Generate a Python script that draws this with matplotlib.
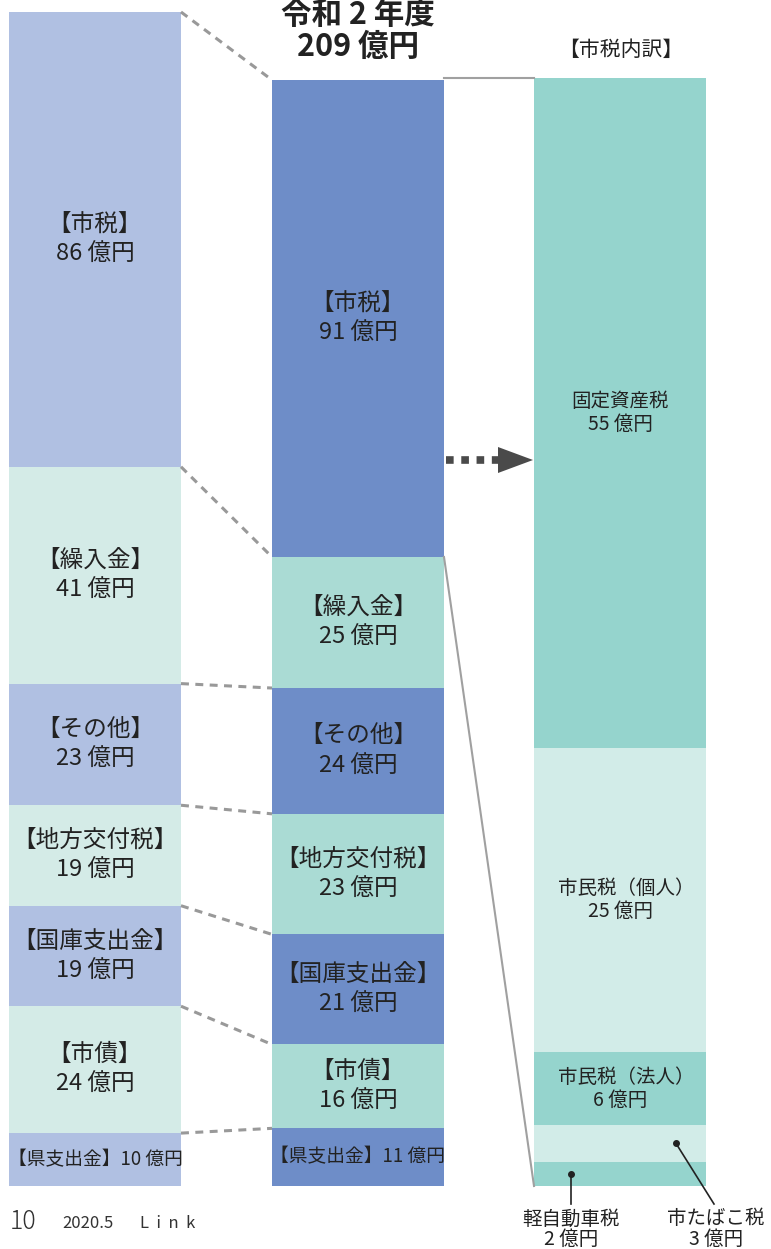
import numpy as np
import matplotlib
matplotlib.use('Agg')
import matplotlib.pyplot as plt

plt.rcParams['font.family'] = ['Noto Sans CJK JP', 'DejaVu Sans']

# data (億円)
cats = ['市税', '繰入金', 'その他', '地方交付税', '国庫支出金', '市債', '県支出金']
prev_vals = [86, 41, 23, 19, 19, 24, 10]
curr_vals = [91, 25, 24, 23, 21, 16, 11]
tax_cats = ['固定資産税', '市民税（個人）', '市民税（法人）', '市たばこ税', '軽自動車税']
tax_vals = [55, 25, 6, 3, 2]

W, H = 771, 1249
fig = plt.figure(figsize=(W / 100, H / 100), dpi=100)
ax = fig.add_axes([0, 0, 1, 1])
ax.set_xlim(0, W)
ax.set_ylim(H, 0)
ax.axis('off')

base = 1186          # common baseline in px
bw = 172
x_prev, x_curr, x_tax = 9, 272, 534
prev_scale = (base - 12) / sum(prev_vals)     # px per 億円
curr_scale = (base - 80) / sum(curr_vals)
tax_scale = (base - 78) / sum(tax_vals)

c_prev = ['#b0c0e2', '#d4ebe7']
c_curr = ['#6e8dc8', '#aadbd4']
c_tax = ['#95d4cd', '#d2ece8']
tc = '#222222'


def stack(x, vals, sc, colors):
    tops = base - sc * np.cumsum(vals[::-1])[::-1]
    hs = np.array(vals) * sc
    for i, (t, h) in enumerate(zip(tops, hs)):
        ax.bar(x, h, bottom=t, width=bw, align='edge', color=colors[i % 2], lw=0)
    return tops, hs


pt, ph = stack(x_prev, prev_vals, prev_scale, c_prev)
ct, chh = stack(x_curr, curr_vals, curr_scale, c_curr)
tt, th = stack(x_tax, tax_vals, tax_scale, c_tax)

fs = 17
for i, c in enumerate(cats):
    for x0, tops, hs, vals in [(x_prev, pt, ph, prev_vals), (x_curr, ct, chh, curr_vals)]:
        yc = tops[i] + hs[i] / 2
        if c == '県支出金':
            ax.text(x0 + bw / 2, yc, f'【{c}】{vals[i]} 億円', ha='center', va='center',
                    fontsize=13.5, color=tc)
        else:
            ax.text(x0 + bw / 2, yc - 15, f'【{c}】', ha='center', va='center',
                    fontsize=fs, color=tc)
            ax.text(x0 + bw / 2, yc + 15, f'{vals[i]} 億円', ha='center', va='center',
                    fontsize=fs, color=tc)

# dashed connectors
pb = np.append(pt, base)
cb = np.append(ct, base)
for a, b in zip(pb[:-1], cb[:-1]):
    ax.plot([x_prev + bw, x_curr], [a, b], ls=(0, (2.6, 2.1)), color='#999999', lw=2.2)

# right bar labels
for i in range(3):
    yc = tt[i] + th[i] / 2
    dx = 6 if '（' in tax_cats[i] else 0
    ax.text(x_tax + bw / 2 + dx, yc - 11, tax_cats[i], ha='center', va='center',
            fontsize=14, color=tc)
    ax.text(x_tax + bw / 2, yc + 12, f'{tax_vals[i]} 億円', ha='center', va='center',
            fontsize=14, color=tc)

# small ones with leader lines
ycar = tt[4] + th[4] / 2
ytob = tt[3] + th[3] / 2
ax.plot([571, 571], [ycar, 1204], color=tc, lw=1.2)
ax.plot(571, ycar, 'o', color=tc, ms=4)
ax.text(571, 1229, f'{tax_cats[4]}\n{tax_vals[4]} 億円', ha='center', va='center',
        fontsize=14, color=tc, linespacing=0.95)
ax.plot([676, 714], [ytob, 1204], color=tc, lw=1.2)
ax.plot(676, ytob, 'o', color=tc, ms=4)
ax.text(716, 1229, f'{tax_cats[3]}\n{tax_vals[3]} 億円', ha='center', va='center',
        fontsize=14, color=tc, linespacing=0.95)

# solid connectors middle -> right
ax.plot([x_curr + bw, x_tax], [tt[0], tt[0]], color='#a0a0a0', lw=1.5)
ax.plot([x_curr + bw, x_tax], [ct[1], base], color='#a0a0a0', lw=1.5)

# dotted arrow
ax.plot([446, 500], [460, 460], ls=(0, (1, 1)), color='#4a4a4a', lw=5.5, solid_capstyle='butt')
ax.fill([498, 533, 498], [447, 460, 473], color='#4a4a4a', lw=0)

# titles
ax.text(x_curr + bw / 2, 31, '令和 2 年度\n209 億円', ha='center', va='center',
        fontsize=22, fontweight='bold', color=tc, linespacing=1.0)
ax.text(x_tax + bw / 2 + 1, 50, '【市税内訳】', ha='center', va='center',
        fontsize=15, color=tc)

# footer
ax.text(10, 1222, '10', ha='left', va='center', fontsize=18, color='#333333',
        fontweight='light')
ax.text(62, 1224, '2020.5', ha='left', va='center', fontsize=12, color='#333333')
ax.text(140, 1224, 'L  i  n  k', ha='left', va='center', fontsize=12, color='#333333')

fig.savefig('out.png', dpi=100)
